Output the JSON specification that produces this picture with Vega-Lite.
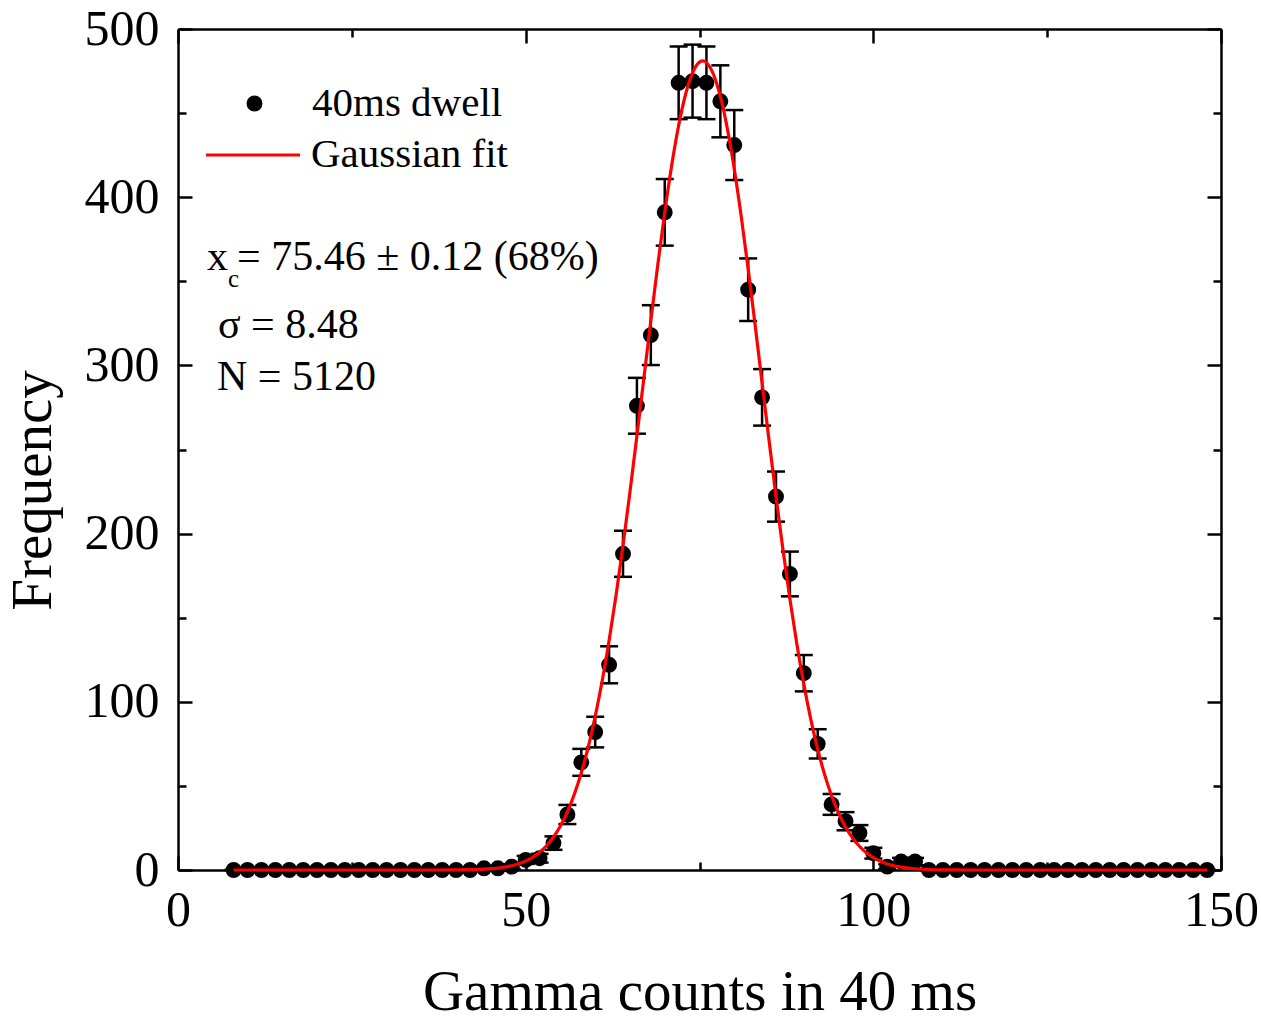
{
  "$schema": "https://vega.github.io/schema/vega-lite/v6.json",
  "width": 1043,
  "height": 841,
  "autosize": {"type": "none"},
  "padding": {"left": 178, "top": 29, "right": 40, "bottom": 151},
  "background": "white",
  "config": {
    "view": {"stroke": null},
    "font": "Liberation Serif",
    "axis": {
      "domainColor": "black",
      "domainWidth": 2.5,
      "tickColor": "black",
      "tickWidth": 2.5,
      "grid": false,
      "labelFont": "Liberation Serif",
      "labelFontSize": 50,
      "labelColor": "black",
      "titleFont": "Liberation Serif",
      "titleFontSize": 57,
      "titleFontWeight": "normal",
      "titleColor": "black",
      "labelFlush": false,
      "labelOverlap": false
    },
    "legend": {
      "labelFont": "Liberation Serif",
      "labelFontSize": 41,
      "labelColor": "black",
      "labelLimit": 0,
      "padding": 0,
      "title": null
    }
  },
  "datasets": {
    "hist": [
      {"x": 8, "count": 0, "lo": 0, "hi": 0}, {"x": 10, "count": 0, "lo": 0, "hi": 0}, {"x": 12, "count": 0, "lo": 0, "hi": 0},
      {"x": 14, "count": 0, "lo": 0, "hi": 0}, {"x": 16, "count": 0, "lo": 0, "hi": 0}, {"x": 18, "count": 0, "lo": 0, "hi": 0},
      {"x": 20, "count": 0, "lo": 0, "hi": 0}, {"x": 22, "count": 0, "lo": 0, "hi": 0}, {"x": 24, "count": 0, "lo": 0, "hi": 0},
      {"x": 26, "count": 0, "lo": 0, "hi": 0}, {"x": 28, "count": 0, "lo": 0, "hi": 0}, {"x": 30, "count": 0, "lo": 0, "hi": 0},
      {"x": 32, "count": 0, "lo": 0, "hi": 0}, {"x": 34, "count": 0, "lo": 0, "hi": 0}, {"x": 36, "count": 0, "lo": 0, "hi": 0},
      {"x": 38, "count": 0, "lo": 0, "hi": 0}, {"x": 40, "count": 0, "lo": 0, "hi": 0}, {"x": 42, "count": 0, "lo": 0, "hi": 0},
      {"x": 44, "count": 1, "lo": 0, "hi": 2}, {"x": 46, "count": 1, "lo": 0, "hi": 2}, {"x": 48, "count": 2, "lo": 0.6, "hi": 3.4},
      {"x": 50, "count": 6, "lo": 3.6, "hi": 8.4}, {"x": 52, "count": 7, "lo": 4.4, "hi": 9.6}, {"x": 54, "count": 16, "lo": 12, "hi": 20},
      {"x": 56, "count": 33, "lo": 27.3, "hi": 38.7}, {"x": 58, "count": 64, "lo": 56, "hi": 72}, {"x": 60, "count": 82, "lo": 72.9, "hi": 91.1},
      {"x": 62, "count": 122, "lo": 111, "hi": 133}, {"x": 64, "count": 188, "lo": 174.3, "hi": 201.7}, {"x": 66, "count": 276, "lo": 259.4, "hi": 292.6},
      {"x": 68, "count": 318, "lo": 300.2, "hi": 335.8}, {"x": 70, "count": 391, "lo": 371.2, "hi": 410.8}, {"x": 72, "count": 468, "lo": 446.4, "hi": 489.6},
      {"x": 74, "count": 469, "lo": 447.3, "hi": 490.7}, {"x": 76, "count": 468, "lo": 446.4, "hi": 489.6}, {"x": 78, "count": 457, "lo": 435.6, "hi": 478.4},
      {"x": 80, "count": 431, "lo": 410.2, "hi": 451.8}, {"x": 82, "count": 345, "lo": 326.4, "hi": 363.6}, {"x": 84, "count": 281, "lo": 264.2, "hi": 297.8},
      {"x": 86, "count": 222, "lo": 207.1, "hi": 236.9}, {"x": 88, "count": 176, "lo": 162.7, "hi": 189.3}, {"x": 90, "count": 117, "lo": 106.2, "hi": 127.8},
      {"x": 92, "count": 75, "lo": 66.3, "hi": 83.7}, {"x": 94, "count": 39, "lo": 32.8, "hi": 45.2}, {"x": 96, "count": 29, "lo": 23.6, "hi": 34.4},
      {"x": 98, "count": 22, "lo": 17.3, "hi": 26.7}, {"x": 100, "count": 10, "lo": 6.8, "hi": 13.2}, {"x": 102, "count": 2, "lo": 0.6, "hi": 3.4},
      {"x": 104, "count": 5, "lo": 2.8, "hi": 7.2}, {"x": 106, "count": 5, "lo": 2.8, "hi": 7.2}, {"x": 108, "count": 0, "lo": 0, "hi": 0},
      {"x": 110, "count": 0, "lo": 0, "hi": 0}, {"x": 112, "count": 0, "lo": 0, "hi": 0}, {"x": 114, "count": 0, "lo": 0, "hi": 0},
      {"x": 116, "count": 0, "lo": 0, "hi": 0}, {"x": 118, "count": 0, "lo": 0, "hi": 0}, {"x": 120, "count": 0, "lo": 0, "hi": 0},
      {"x": 122, "count": 0, "lo": 0, "hi": 0}, {"x": 124, "count": 0, "lo": 0, "hi": 0}, {"x": 126, "count": 0, "lo": 0, "hi": 0},
      {"x": 128, "count": 0, "lo": 0, "hi": 0}, {"x": 130, "count": 0, "lo": 0, "hi": 0}, {"x": 132, "count": 0, "lo": 0, "hi": 0},
      {"x": 134, "count": 0, "lo": 0, "hi": 0}, {"x": 136, "count": 0, "lo": 0, "hi": 0}, {"x": 138, "count": 0, "lo": 0, "hi": 0},
      {"x": 140, "count": 0, "lo": 0, "hi": 0}, {"x": 142, "count": 0, "lo": 0, "hi": 0}, {"x": 144, "count": 0, "lo": 0, "hi": 0},
      {"x": 146, "count": 0, "lo": 0, "hi": 0}, {"x": 148, "count": 0, "lo": 0, "hi": 0}
    ],
    "fit": [
      {"x": 8, "y": 0}, {"x": 20, "y": 0}, {"x": 30, "y": 0}, {"x": 36, "y": 0.01}, {"x": 40, "y": 0.08},
      {"x": 42, "y": 0.2}, {"x": 44, "y": 0.49}, {"x": 46, "y": 1.15}, {"x": 48, "y": 2.5},
      {"x": 50, "y": 5.3}, {"x": 51, "y": 7.5}, {"x": 52, "y": 10.5}, {"x": 53, "y": 14.4}, {"x": 54, "y": 19.6},
      {"x": 55, "y": 26.2}, {"x": 56, "y": 34.6}, {"x": 57, "y": 45.0}, {"x": 58, "y": 57.8}, {"x": 59, "y": 73.1},
      {"x": 60, "y": 91.3}, {"x": 61, "y": 112.4}, {"x": 62, "y": 136.5}, {"x": 63, "y": 163.4}, {"x": 64, "y": 193.0},
      {"x": 65, "y": 224.8}, {"x": 66, "y": 258.2}, {"x": 67, "y": 292.4}, {"x": 68, "y": 326.6}, {"x": 69, "y": 359.8},
      {"x": 70, "y": 391.0}, {"x": 71, "y": 418.9}, {"x": 72, "y": 442.6}, {"x": 73, "y": 461.2}, {"x": 74, "y": 473.9},
      {"x": 75, "y": 480.3}, {"x": 75.5, "y": 481.0}, {"x": 76, "y": 480.0}, {"x": 77, "y": 473.1}, {"x": 78, "y": 459.9},
      {"x": 79, "y": 440.9}, {"x": 80, "y": 416.8}, {"x": 81, "y": 388.6}, {"x": 82, "y": 357.3}, {"x": 83, "y": 324.0},
      {"x": 84, "y": 289.7}, {"x": 85, "y": 255.5}, {"x": 86, "y": 222.2}, {"x": 87, "y": 190.5}, {"x": 88, "y": 161.2},
      {"x": 89, "y": 134.4}, {"x": 90, "y": 110.6}, {"x": 91, "y": 89.7}, {"x": 92, "y": 71.8}, {"x": 93, "y": 56.7},
      {"x": 94, "y": 44.1}, {"x": 95, "y": 33.8}, {"x": 96, "y": 25.6}, {"x": 97, "y": 19.1}, {"x": 98, "y": 14.1},
      {"x": 99, "y": 10.2}, {"x": 100, "y": 7.3}, {"x": 101, "y": 5.2}, {"x": 102, "y": 3.6}, {"x": 103, "y": 2.5},
      {"x": 104, "y": 1.7}, {"x": 105, "y": 1.1}, {"x": 106, "y": 0.73}, {"x": 108, "y": 0.3}, {"x": 110, "y": 0.12},
      {"x": 112, "y": 0.05}, {"x": 115, "y": 0.01}, {"x": 120, "y": 0}, {"x": 130, "y": 0}, {"x": 148, "y": 0}
    ]
  },
  "layer": [
    {
      "data": {"name": "hist"},
      "mark": {"type": "rule", "color": "black", "strokeWidth": 2.5},
      "encoding": {
        "x": {"field": "x", "type": "quantitative", "scale": {"domain": [0, 150], "nice": false}, "axis": null},
        "y": {"field": "lo", "type": "quantitative", "scale": {"domain": [0, 500], "nice": false}, "axis": null},
        "y2": {"field": "hi"}
      }
    },
    {
      "data": {"name": "hist"},
      "mark": {"type": "point", "shape": "stroke", "filled": false, "size": 324, "stroke": "black", "strokeWidth": 2.5, "opacity": 1},
      "encoding": {
        "x": {"field": "x", "type": "quantitative", "scale": {"domain": [0, 150], "nice": false}, "axis": null},
        "y": {"field": "lo", "type": "quantitative", "scale": {"domain": [0, 500], "nice": false}, "axis": null}
      }
    },
    {
      "data": {"name": "hist"},
      "mark": {"type": "point", "shape": "stroke", "filled": false, "size": 324, "stroke": "black", "strokeWidth": 2.5, "opacity": 1},
      "encoding": {
        "x": {"field": "x", "type": "quantitative", "scale": {"domain": [0, 150], "nice": false}, "axis": null},
        "y": {"field": "hi", "type": "quantitative", "scale": {"domain": [0, 500], "nice": false}, "axis": null}
      }
    },
    {
      "data": {"name": "hist"},
      "mark": {"type": "point", "filled": true, "size": 254, "opacity": 1, "shape": "circle"},
      "transform": [{"calculate": "'40ms dwell'", "as": "s1"}],
      "encoding": {
        "x": {
          "field": "x", "type": "quantitative",
          "scale": {"domain": [0, 150], "nice": false},
          "axis": {
            "orient": "bottom",
            "values": [0, 25, 50, 75, 100, 125, 150],
            "labelExpr": "datum.value % 50 === 0 ? datum.label : ''",
            "tickSize": {"condition": {"test": "datum.value % 50 === 0", "value": -14}, "value": -8},
            "labelPadding": 29,
            "title": "Gamma counts in 40 ms",
            "titleX": 521.5,
            "titleY": 139,
            "titleBaseline": "alphabetic"
          }
        },
        "y": {
          "field": "count", "type": "quantitative",
          "scale": {"domain": [0, 500], "nice": false},
          "axis": {
            "orient": "left",
            "values": [0, 50, 100, 150, 200, 250, 300, 350, 400, 450, 500],
            "labelExpr": "datum.value % 100 === 0 ? datum.label : ''",
            "tickSize": {"condition": {"test": "datum.value % 100 === 0", "value": -14}, "value": -8},
            "labelPadding": 33,
            "title": "Frequency",
            "titleX": -128,
            "titleY": 461,
            "titleAngle": -90,
            "titleAlign": "center",
            "titleBaseline": "alphabetic"
          }
        },
        "fill": {
          "field": "s1", "type": "nominal",
          "scale": {"domain": ["40ms dwell"], "range": ["black"]},
          "legend": {"orient": "none", "legendX": 56, "legendY": 54, "symbolType": "circle", "symbolSize": 254, "labelOffset": 37, "symbolStrokeWidth": 0}
        }
      }
    },
    {
      "data": {"name": "fit"},
      "mark": {"type": "line", "strokeWidth": 3.2, "interpolate": "monotone"},
      "transform": [{"calculate": "'Gaussian fit'", "as": "s2"}],
      "encoding": {
        "x": {
          "field": "x", "type": "quantitative",
          "scale": {"domain": [0, 150], "nice": false},
          "axis": {
            "orient": "top",
            "values": [0, 25, 50, 75, 100, 125, 150],
            "labels": false,
            "tickSize": {"condition": {"test": "datum.value % 50 === 0", "value": -14}, "value": -8},
            "title": null
          }
        },
        "y": {
          "field": "y", "type": "quantitative",
          "scale": {"domain": [0, 500], "nice": false},
          "axis": {
            "orient": "right",
            "values": [0, 50, 100, 150, 200, 250, 300, 350, 400, 450, 500],
            "labels": false,
            "tickSize": {"condition": {"test": "datum.value % 100 === 0", "value": -14}, "value": -8},
            "title": null
          }
        },
        "stroke": {
          "field": "s2", "type": "nominal",
          "scale": {"domain": ["Gaussian fit"], "range": ["#ff0000"]},
          "legend": {"orient": "none", "legendX": 26, "legendY": 77, "symbolType": "stroke", "symbolSize": 8836, "symbolStrokeWidth": 3.2, "labelOffset": 9}
        }
      }
    },
    {
      "data": {"values": [{"label": "x"}]},
      "mark": {"type": "text", "align": "left", "baseline": "alphabetic", "fontSize": 42, "font": "Liberation Serif", "color": "black"},
      "encoding": {"x": {"datum": 4.17, "type": "quantitative", "axis": null}, "y": {"datum": 356.7, "type": "quantitative", "axis": null}, "text": {"field": "label"}}
    },
    {
      "data": {"values": [{"label": "c"}]},
      "mark": {"type": "text", "align": "left", "baseline": "alphabetic", "fontSize": 25, "font": "Liberation Serif", "color": "black"},
      "encoding": {"x": {"datum": 7.19, "type": "quantitative", "axis": null}, "y": {"datum": 346.6, "type": "quantitative", "axis": null}, "text": {"field": "label"}}
    },
    {
      "data": {"values": [{"label": "= 75.46 ± 0.12 (68%)"}]},
      "mark": {"type": "text", "align": "left", "baseline": "alphabetic", "fontSize": 42, "font": "Liberation Serif", "color": "black"},
      "encoding": {"x": {"datum": 8.49, "type": "quantitative", "axis": null}, "y": {"datum": 356.7, "type": "quantitative", "axis": null}, "text": {"field": "label"}}
    },
    {
      "data": {"values": [{"label": "σ = 8.48"}]},
      "mark": {"type": "text", "align": "left", "baseline": "alphabetic", "fontSize": 42, "font": "Liberation Serif", "color": "black"},
      "encoding": {"x": {"datum": 5.75, "type": "quantitative", "axis": null}, "y": {"datum": 316.3, "type": "quantitative", "axis": null}, "text": {"field": "label"}}
    },
    {
      "data": {"values": [{"label": "N = 5120"}]},
      "mark": {"type": "text", "align": "left", "baseline": "alphabetic", "fontSize": 42, "font": "Liberation Serif", "color": "black"},
      "encoding": {"x": {"datum": 5.61, "type": "quantitative", "axis": null}, "y": {"datum": 285.4, "type": "quantitative", "axis": null}, "text": {"field": "label"}}
    }
  ]
}
